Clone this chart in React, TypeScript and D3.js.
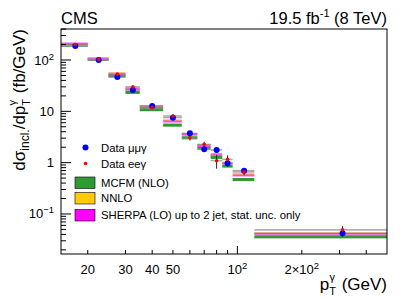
import * as d3 from "d3";

// pT bins (GeV)
const binEdges = [15, 20, 25, 30, 35, 45, 55, 65, 75, 85, 95, 120, 500];

// data, fb/GeV
const dataMuMu = [187, 100, 46.7, 26, 12.7, 7.5, 3.73, 1.82, 1.77, 0.97, 0.697, 0.042];
const errMuMu = [0.02, 0.02, 0.03, 0.04, 0.05, 0.06, 0.08, 0.1, 0.12, 0.15, 0.12, 0.15];
const dataEE = [200, 103, 53, 30, 11.8, 8.1, 3.06, 2.28, 1.09, 1.16, 0.66, 0.049];
const errEE = [0.02, 0.03, 0.04, 0.05, 0.06, 0.08, 0.12, 0.12, 0.3, 0.2, 0.14, 0.18];

// predictions
const mcfm = [196, 103, 49.4, 23.5, 10.8, 5.4, 3.06, 1.95, 1.27, 0.86, 0.47, 0.036];
const nnlo = [200, 104, 55, 28.1, 12.7, 6.6, 3.5, 2.2, 1.47, 1.0, 0.59, 0.042];
const sherpa = [211, 108, 52, 27, 12.0, 6.3, 3.6, 2.1, 1.4, 0.97, 0.56, 0.041];

const xTickLabels = [
  { v: 20, base: "20", sup: "" },
  { v: 30, base: "30", sup: "" },
  { v: 40, base: "40", sup: "" },
  { v: 50, base: "50", sup: "" },
  { v: 100, base: "10", sup: "2" },
  { v: 200, base: "2\u00d710", sup: "2" },
];
const yTickLabels = [
  { v: 100, base: "10", sup: "2" },
  { v: 10, base: "10", sup: "" },
  { v: 1, base: "1", sup: "" },
  { v: 0.1, base: "10", sup: "\u22121" },
];

const W = 407;
const H = 299;
const m = { left: 61, right: 387, top: 29, bottom: 254 };
const font = "'Liberation Sans', Arial, Helvetica, sans-serif";

export default function App() {
  const x = d3.scaleLog().domain([15, 500]).range([m.left, m.right]);
  const y = d3.scaleLog().domain([0.0166, 402]).range([m.bottom, m.top]);

  const bins = binEdges.slice(0, -1).map((lo, i) => ({ lo, hi: binEdges[i + 1], mid: (lo + binEdges[i + 1]) / 2 }));

  const band = (vals: number[], rel: number, fill: string, key: string, opacity = 1) =>
    vals.map((v, i) => {
      const y0 = y(v * (1 + rel));
      const y1 = y(v * (1 - rel));
      return (
        <rect key={key + i} x={x(bins[i].lo)} width={x(bins[i].hi) - x(bins[i].lo)} y={y0} height={Math.max(1.5, y1 - y0)} fill={fill} opacity={opacity} />
      );
    });

  const dataSyst = (vals: number[], key: string) =>
    vals.map((v, i) => (
      <g key={key + i}>
        <rect x={x(bins[i].lo)} width={x(bins[i].hi) - x(bins[i].lo)} y={y(v) - 0.9} height={1.8} fill="#aaa" opacity={0.55} />
        <line x1={x(bins[i].lo)} x2={x(bins[i].hi)} y1={y(v)} y2={y(v)} stroke="#333" strokeWidth={0.5} opacity={0.6} />
      </g>
    ));

  const errBars = (vals: number[], errs: number[], key: string) =>
    vals.map((v, i) => (
      <line key={key + i} x1={x(bins[i].mid)} x2={x(bins[i].mid)} y1={y(v * (1 + errs[i]))} y2={y(v * (1 - errs[i]))} stroke="#222" strokeWidth={1} />
    ));

  const xMinor = [20, 30, 40, 50, 60, 70, 80, 90, 200, 300, 400];
  const yMinor: number[] = [];
  [0.01, 0.1, 1, 10, 100].forEach((dec) => {
    for (let k = 2; k <= 9; k++) {
      const t = dec * k;
      if (t > 0.0166 && t < 402) yMinor.push(t);
    }
  });

  return (
    <svg width={W} height={H} style={{ position: "absolute", left: 0, top: 0, background: "#fff" }} fontFamily={font}>
      <rect width={W} height={H} fill="#fff" />

      {band(mcfm, 0.07, "#2f9a32", "g")}
      {band(nnlo, 0.05, "#f7a35c", "o")}
      {band(sherpa, 0.04, "#ff33ff", "s", 0.85)}
      {dataSyst(dataEE, "se")}
      {dataSyst(dataMuMu, "sm")}

      {errBars(dataMuMu, errMuMu, "em")}
      {errBars(dataEE, errEE, "ee")}
      {dataMuMu.map((v, i) => (
        <circle key={"pm" + i} cx={x(bins[i].mid)} cy={y(v)} r={3} fill="#0000ff" />
      ))}
      {dataEE.map((v, i) => (
        <circle key={"pe" + i} cx={x(bins[i].mid)} cy={y(v)} r={1.8} fill="#ff0000" />
      ))}

      {/* frame */}
      <rect x={m.left} y={m.top} width={m.right - m.left} height={m.bottom - m.top} fill="none" stroke="#000" strokeWidth={1} />

      {/* x ticks */}
      {xMinor.map((t) => (
        <line key={"xt" + t} x1={x(t)} x2={x(t)} y1={m.bottom} y2={m.bottom - 4} stroke="#000" />
      ))}
      <line x1={x(100)} x2={x(100)} y1={m.bottom} y2={m.bottom - 8} stroke="#000" />
      {xTickLabels.map((t) => (
        <text key={"xl" + t.v} x={x(t.v)} y={274} fontSize={13} textAnchor="middle">
          {t.base}
          {t.sup && (
            <tspan dy={-5} fontSize={9.5}>
              {t.sup}
            </tspan>
          )}
        </text>
      ))}

      {/* y ticks */}
      {yMinor.map((t) => (
        <line key={"yt" + t} x1={m.left} x2={m.left + 5} y1={y(t)} y2={y(t)} stroke="#000" />
      ))}
      {[0.1, 1, 10, 100].map((t) => (
        <line key={"yM" + t} x1={m.left} x2={m.left + 10} y1={y(t)} y2={y(t)} stroke="#000" />
      ))}
      {yTickLabels.map((t) => (
        <text key={"yl" + t.v} x={54} y={y(t.v) + 4.5} fontSize={13} textAnchor="end">
          {t.base}
          {t.sup && (
            <tspan dy={-5} fontSize={9.5}>
              {t.sup}
            </tspan>
          )}
        </text>
      ))}

      {/* titles */}
      <text x={m.left} y={24} fontSize={16.5}>
        CMS
      </text>
      <text x={m.right} y={24} fontSize={16.5} textAnchor="end">
        19.5 fb<tspan dy={-7} fontSize={11}>-1</tspan>
        <tspan dy={7}> (8 TeV)</tspan>
      </text>

      <text transform={`translate(25, ${m.top}) rotate(-90)`} fontSize={17} textAnchor="end">
        d{"\u03c3"}
        <tspan dy={4} fontSize={12}>incl.</tspan>
        <tspan dy={-4}>/dp</tspan>
        <tspan dy={5} fontSize={11}>T</tspan>
        <tspan dx={-6.5} dy={-14} fontSize={11}>{"\u03b3"}</tspan>
        <tspan dx={2} dy={9}> (fb/GeV)</tspan>
      </text>

      <text x={m.right} y={290} fontSize={17} textAnchor="end">
        p<tspan dy={5} fontSize={11}>T</tspan>
        <tspan dx={-6.5} dy={-14} fontSize={11}>{"\u03b3"}</tspan>
        <tspan dx={2} dy={9}> (GeV)</tspan>
      </text>

      {/* legend */}
      <circle cx={85.5} cy={147.5} r={3} fill="#0000ff" />
      <text x={101} y={151.5} fontSize={11.3}>Data {"\u03bc\u03bc\u03b3"}</text>
      <circle cx={85.5} cy={163.5} r={1.8} fill="#ff0000" />
      <text x={101} y={167.5} fontSize={11.3}>Data ee{"\u03b3"}</text>
      <rect x={75} y={177} width={20} height={11.5} fill="#2f9a32" stroke="#000" strokeWidth={0.6} />
      <text x={101} y={186.5} fontSize={11.3}>MCFM (NLO)</text>
      <rect x={75} y={192.5} width={20} height={11.5} fill="#ffcc00" stroke="#000" strokeWidth={0.6} />
      <text x={101} y={202} fontSize={11.3}>NNLO</text>
      <rect x={75} y={209.5} width={20} height={11.5} fill="#ff00ff" stroke="#000" strokeWidth={0.6} />
      <text x={101} y={219} fontSize={11.3}>SHERPA (LO) up to 2 jet, stat. unc. only</text>
    </svg>
  );
}
